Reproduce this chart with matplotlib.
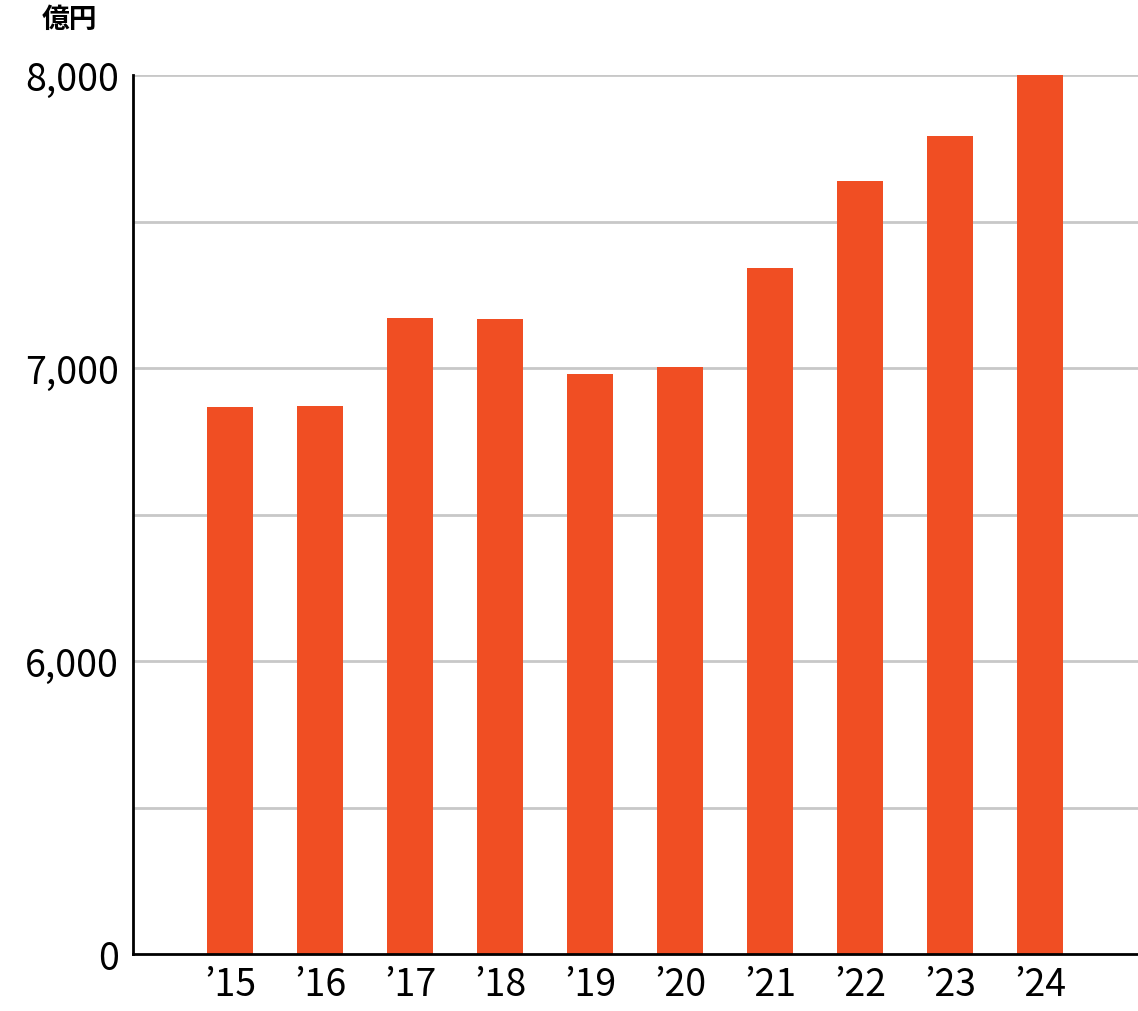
import matplotlib
matplotlib.use("Agg")
import matplotlib.pyplot as plt
import numpy as np

# Jahre und Werte (億円); die Achse ist unterbrochen: "0" sitzt auf Höhe 5000
years = ["’15", "’16", "’17", "’18", "’19", "’20", "’21", "’22", "’23", "’24"]
values = [6867, 6870, 7171, 7167, 6980, 7003, 7341, 7638, 7792, 8000]
grid_values = [5500, 6000, 6500, 7000, 7500, 8000]
tick_values = [5000, 6000, 7000, 8000]
tick_labels = ["0", "6,000", "7,000", "8,000"]
BASE = 5000

BAR = "#f04e23"
plt.rcParams["font.family"] = ["Noto Sans CJK JP", "DejaVu Sans"]

fig = plt.figure(figsize=(11.38, 10.12), dpi=100)
ax = fig.add_axes([133 / 1138, 57 / 1012, 1 - 133 / 1138, 879 / 1012])

x = np.arange(len(years))
ax.bar(x, np.array(values) - BASE, bottom=BASE, width=0.51, color=BAR, zorder=3)

for g in grid_values:
    ax.axhline(g, color="#c8c8c8", lw=2, zorder=1)

ax.set_xlim(-1.08, 10.09)
ax.set_ylim(BASE, 8000)
ax.set_yticks(tick_values)
ax.set_yticklabels(tick_labels)
ax.set_xticks(x)
ax.set_xticklabels(years)
ax.tick_params(length=0, labelsize=27, pad=10)
ax.tick_params(axis="x", pad=8)
for s in ("top", "right"):
    ax.spines[s].set_visible(False)
for s in ("left", "bottom"):
    ax.spines[s].set_linewidth(2)
    ax.spines[s].set_zorder(4)

fig.text(42 / 1138, 1 - 20 / 1012, "億円", fontsize=20, fontweight="bold", va="center")

fig.savefig("out.png")
